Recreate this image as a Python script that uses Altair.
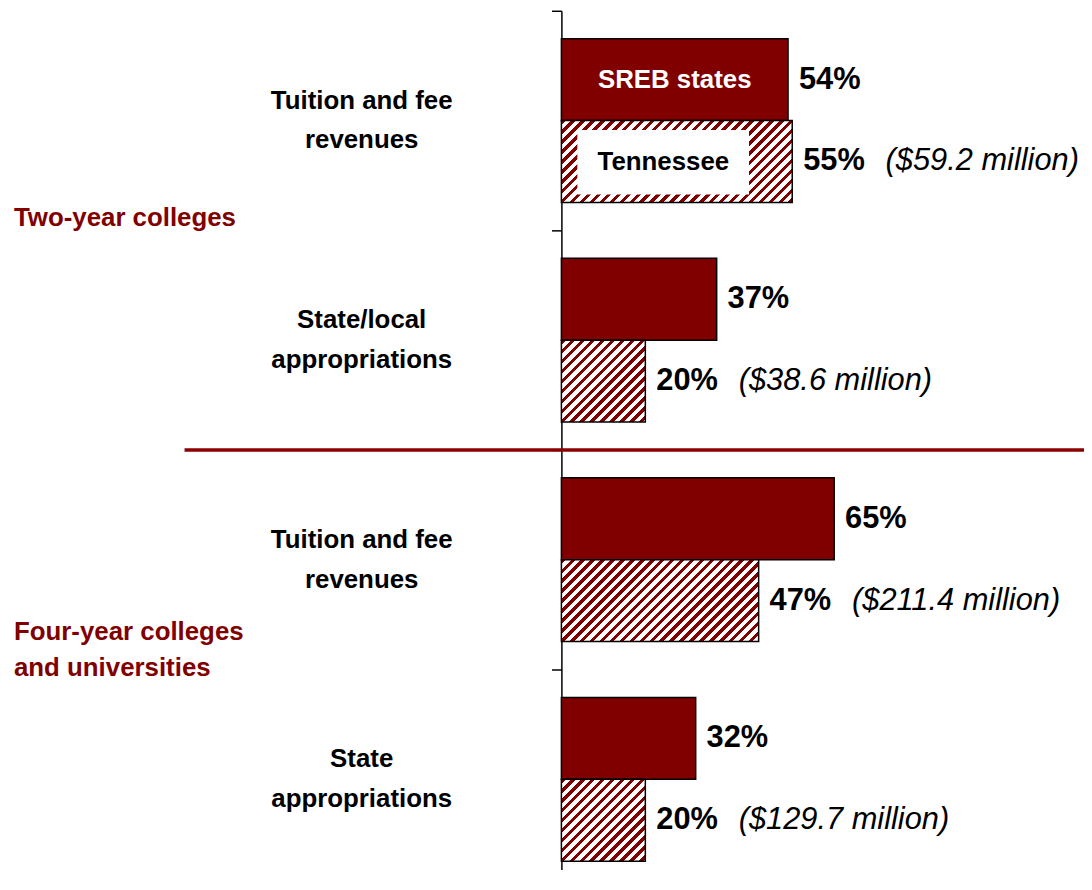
import altair as alt
import pandas as pd

# ---------------- data ----------------
cat_labels = [
    "Tuition and fee|revenues",
    "State/local|appropriations",
    "Tuition and fee|revenues",
    "State|appropriations",
]
series = ["SREB states", "Tennessee"]
sreb_values = [54, 37, 65, 32]
tn_values = [55, 20, 47, 20]
tn_dollars = ["($59.2 million)", "($38.6 million)", "($211.4 million)", "($129.7 million)"]
group_labels = ["Two-year colleges", "Four-year colleges|and universities"]

# ---------------- layout / styling ----------------
MAROON = "#800000"
LINE_RED = "#8B0000"
FONT = "Liberation Sans"

PX_PER = 4.224
W_PLOT = 526
X_MAX = W_PLOT / PX_PER
H_PLOT = 862
Y_RANGE = 884          # the last row runs past the bottom edge, as in the original
ROW_PX = Y_RANGE / len(cat_labels)
BAR_TOP, BAR_MID, BAR_BOT = 0.127, 0.5, 0.873
BAR_H = (BAR_BOT - BAR_MID) * ROW_PX

n = len(cat_labels)
idx = list(range(n))
sreb_df = pd.DataFrame({"i": idx, "value": sreb_values, "zero": 0,
                        "y0": [k + BAR_TOP for k in idx], "y1": [k + BAR_MID for k in idx]})
tn_df = pd.DataFrame({"i": idx, "value": tn_values, "zero": 0, "dollars": tn_dollars,
                      "y0": [k + BAR_MID for k in idx], "y1": [k + BAR_BOT for k in idx]})
sreb_df["ymid"] = (sreb_df["y0"] + sreb_df["y1"]) / 2
tn_df["ymid"] = (tn_df["y0"] + tn_df["y1"]) / 2
sreb_df["t"] = [f"{v}%" for v in sreb_values]
tn_df["t"] = [f"{v}%" for v in tn_values]
lab_df = pd.DataFrame({"y": [k + 0.5 for k in idx], "label": cat_labels})

x_scale = alt.Scale(domain=[0, X_MAX], nice=False, zero=True)
y_scale = alt.Scale(domain=[0, n], range=[0, Y_RANGE], nice=False, zero=False)

YAX = alt.Axis(values=list(range(n + 1)), labels=False, title=None, tickSize=10,
               domainColor="black", domainWidth=1.5, tickColor="black", tickWidth=1.5,
               grid=False)


def hatch(W, H, P=10.0, frac=0.45):
    L = W + H
    stops = []
    k = 0
    while k * P < L:
        a = round(k * P / L, 5)
        b = round(min((k * P + frac * P) / L, 1), 5)
        c = round(min((k + 1) * P / L, 1), 5)
        stops += [{"offset": a, "color": MAROON}, {"offset": b, "color": MAROON},
                  {"offset": b, "color": "white"}, {"offset": c, "color": "white"}]
        k += 1
    s = L / (W * W + H * H)
    return {"gradient": "linear", "x1": 0, "y1": 0, "x2": round(s * W, 5),
            "y2": round(s * H, 5), "stops": stops}


layers = []
layers.append(alt.Chart(sreb_df).mark_rect(fill=MAROON, stroke="black", strokeWidth=1.5)
              .encode(y=alt.Y("y0:Q", scale=y_scale, axis=YAX), y2="y1:Q",
                      x=alt.X("zero:Q", scale=x_scale, axis=None), x2="value:Q"))

for i, v in enumerate(tn_values):
    grad = hatch(v * PX_PER, BAR_H)
    layers.append(alt.Chart(tn_df.iloc[[i]]).mark_rect(fill=grad, stroke="black", strokeWidth=1.5)
                  .encode(y="y0:Q", y2="y1:Q", x="zero:Q", x2="value:Q"))

# legend inside the first pair of bars
leg_df = pd.DataFrame({"x0": [3.8], "x1": [44.7], "y0": [0.543], "y1": [0.837],
                       "mid": [24.3], "ymid": [0.69], "label": [series[1]]})
layers.append(alt.Chart(leg_df).mark_rect(fill="white")
              .encode(y="y0:Q", y2="y1:Q", x="x0:Q", x2="x1:Q"))
layers.append(alt.Chart(leg_df).mark_text(font=FONT, fontWeight="bold", fontSize=26,
                                          color="black", align="center", baseline="middle")
              .encode(y="ymid:Q", x="mid:Q", text="label:N"))

sreb_leg = sreb_df.iloc[[0]].assign(mid=lambda d: d["value"] / 2, label=series[0])
layers.append(alt.Chart(sreb_leg).mark_text(font=FONT, fontWeight="bold", fontSize=26,
                                            color="white", align="center", baseline="middle")
              .encode(y="ymid:Q", x="mid:Q", text="label:N"))

# value labels
for df in (sreb_df, tn_df):
    layers.append(alt.Chart(df).mark_text(font=FONT, fontWeight="bold", fontSize=31, color="black",
                                          align="left", baseline="middle", dx=11)
                  .encode(y="ymid:Q", x="value:Q", text="t:N"))

layers.append(alt.Chart(tn_df).mark_text(font=FONT, fontStyle="italic", fontSize=31, color="black",
                                         align="left", baseline="middle", dx=94)
              .encode(y="ymid:Q", x="value:Q", text="dollars:N"))

# category labels (two lines each; first line sits at the anchor)
layers.append(alt.Chart(lab_df).mark_text(font=FONT, fontWeight="bold", fontSize=26, color="black",
                                          align="center", baseline="middle", lineBreak="|",
                                          lineHeight=40, dy=-20)
              .encode(y="y:Q", x=alt.value(-201), text="label:N"))

# separator line between the two groups
sep_df = pd.DataFrame({"y": [2.0], "a": [-89.8], "b": [X_MAX + 3]})
layers.append(alt.Chart(sep_df).mark_rule(color=LINE_RED, strokeWidth=3.5)
              .encode(y="y:Q", x="a:Q", x2="b:Q"))

# group labels
grp_df = pd.DataFrame({"y": [1 - 12 / ROW_PX, 3 - 38 / ROW_PX], "label": group_labels})
layers.append(alt.Chart(grp_df).mark_text(font=FONT, fontWeight="bold", fontSize=26,
                                          color=MAROON, align="left", baseline="middle",
                                          lineBreak="|", lineHeight=37)
              .encode(y="y:Q", x=alt.value(-551), text="label:N"))

chart = alt.layer(*layers).properties(
    width=W_PLOT, height=H_PLOT,
    autosize=alt.AutoSizeParams(type="none"),
    padding={"left": 557, "top": 0, "right": 0, "bottom": 0},
).configure_view(strokeWidth=0)

chart.save("out.html", embed_options={"renderer": "svg", "actions": False})
